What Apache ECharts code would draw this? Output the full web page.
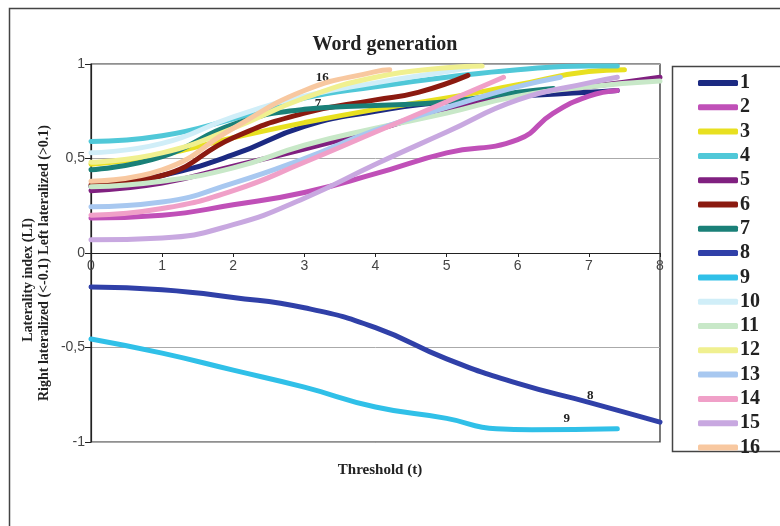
<!DOCTYPE html>
<html><head><meta charset="utf-8">
<script src="https://cdn.jsdelivr.net/npm/echarts@6/dist/echarts.min.js"></script>
<style>html,body{margin:0;padding:0;background:#fff;}#c{width:780px;height:526px;}</style>
</head><body><div id="c"></div>
<script>
const names = ['1','2','3','4','5','6','7','8','9','10','11','12','13','14','15','16'];
const colors = ['#1c2a82','#c050b8','#e8e020','#50c8d8','#802080','#8b1a10','#1a8078','#3040a8',
                '#30c0e8','#d0eef8','#c8e8c8','#f0f090','#a8c8f0','#f0a0c8','#c8a8e0','#f8c8a0'];
// [threshold, laterality index]
const s1  = [[0,0.35],[1,0.41],[2,0.52],[3,0.67],[4,0.75],[5,0.8],[6,0.83],[7,0.85],[7.4,0.86]];
const s2  = [[0,0.185],[1,0.2],[2,0.255],[3,0.32],[4,0.42],[5,0.53],[6,0.6],[6.5,0.74],[7,0.83],[7.4,0.86]];
const s3  = [[0,0.47],[1,0.52],[2,0.61],[3,0.69],[4,0.76],[5,0.82],[6,0.89],[7,0.96],[7.5,0.97]];
const s4  = [[0,0.59],[1,0.62],[2,0.71],[3,0.82],[4,0.88],[5,0.93],[6,0.97],[7,0.99],[7.4,0.99]];
const s5  = [[0,0.33],[1,0.37],[2,0.46],[3,0.55],[4,0.65],[5,0.76],[6,0.84],[7,0.88],[8,0.93]];
const s6  = [[0,0.36],[1,0.41],[2,0.61],[3,0.74],[4,0.81],[4.6,0.85],[5.3,0.94]];
const s7  = [[0,0.44],[1,0.51],[2,0.68],[3,0.76],[4,0.78],[5,0.8],[6,0.85],[6.5,0.87]];
const s8  = [[0,-0.18],[1,-0.195],[2,-0.235],[3,-0.29],[4,-0.395],[5,-0.56],[6,-0.69],[7,-0.79],[8,-0.895]];
const s9  = [[0,-0.455],[1,-0.53],[2,-0.62],[3,-0.71],[4,-0.815],[5,-0.875],[5.7,-0.93],[6.2,-0.935],[7.4,-0.93]];
const s10 = [[0,0.53],[1,0.58],[2,0.72],[3,0.83],[4,0.9],[5,0.96],[5.3,0.98]];
const s11 = [[0,0.35],[1,0.38],[2,0.45],[3,0.57],[4,0.66],[5,0.74],[6,0.83],[7,0.88],[8,0.91]];
const s12 = [[0,0.48],[1,0.53],[2,0.66],[3,0.82],[4,0.93],[5,0.98],[5.5,0.99]];
const s13 = [[0,0.245],[1,0.27],[2,0.37],[3,0.5],[4,0.65],[5,0.77],[6,0.88],[6.6,0.93]];
const s14 = [[0,0.2],[1,0.235],[2,0.33],[3,0.48],[4,0.64],[5,0.8],[5.8,0.93]];
const s15 = [[0,0.07],[1,0.08],[2,0.15],[3,0.29],[4,0.47],[5,0.64],[6,0.81],[7,0.9],[7.4,0.93]];
const s16 = [[0,0.38],[1,0.44],[2,0.66],[3,0.86],[4,0.96],[4.2,0.97]];
const allSeries = [s1,s2,s3,s4,s5,s6,s7,s8,s9,s10,s11,s12,s13,s14,s15,s16];
// line annotations: [series index, threshold, value]
const annotations = [[15,3.25,0.93],[6,3.19,0.79],[9,5.22,1.01],[7,7.02,-0.757],[8,6.69,-0.878]];

const serif = '"Liberation Serif","DejaVu Serif",serif';
const chart = echarts.init(document.getElementById('c'), null, {renderer:'canvas'});
const series = allSeries.map((d,i)=>{
  const marks = annotations.filter(a=>a[0]===i).map(a=>({coord:[a[1],a[2]], value:names[i]}));
  return {
    name: names[i], type:'line', data:d, smooth:0.5, showSymbol:false, symbol:'none',
    lineStyle:{width:5, color:colors[i], cap:'round'}, itemStyle:{color:colors[i]},
    z: 2 + i,
    markPoint: marks.length ? {
      symbol:'circle', symbolSize:0, silent:true,
      label:{show:true, formatter:'{c}', color:'#222', fontFamily:serif, fontWeight:'bold', fontSize:13},
      data: marks
    } : undefined
  };
});
chart.setOption({
  animation:false,
  backgroundColor:'#fff',
  title:{text:'Word generation', left:380, top:30, textAlign:'center',
    textStyle:{fontFamily:serif, fontWeight:'bold', fontSize:20, color:'#222'}},
  grid:{left:91, right:120, top:64, bottom:84, show:true, borderColor:'#222', borderWidth:1.2, backgroundColor:'transparent'},
  xAxis:{type:'value', min:0, max:8, interval:1, position:'bottom', offset:-189,
    axisLine:{onZero:false, lineStyle:{color:'#222', width:1.2}},
    axisTick:{show:true, length:4, lineStyle:{color:'#222'}},
    axisLabel:{color:'#444', fontFamily:'"Liberation Sans",Arial,sans-serif', fontSize:14, margin:6},
    splitLine:{show:false}},
  yAxis:{type:'value', min:-1, max:1, interval:0.5,
    axisLine:{show:true, lineStyle:{color:'#222', width:1.2}},
    axisTick:{show:true, length:6, lineStyle:{color:'#222'}},
    axisLabel:{color:'#444', fontFamily:'"Liberation Sans",Arial,sans-serif', fontSize:14, margin:6,
      formatter:v=>String(v).replace('.',',')},
    splitLine:{show:true, lineStyle:{color:'#aaa', width:1}}},
  legend:{orient:'vertical', left:693, top:68, itemWidth:40, itemHeight:6, itemGap:4.3,
    icon:'roundRect', data:names,
    textStyle:{fontFamily:serif, fontWeight:'bold', fontSize:20, color:'#222', lineHeight:20, padding:[0,0,0,-3]}},
  graphic:[
    {type:'rect', left:7, top:6, shape:{width:800, height:600}, style:{fill:'none', stroke:'#444', lineWidth:1.5}, silent:true},
    {type:'rect', left:670, top:64, shape:{width:120, height:385}, style:{fill:'none', stroke:'#444', lineWidth:1.5}, silent:true},
    {type:'text', x:28, y:280, rotation:Math.PI/2, style:{text:'Laterality index (LI)', fontFamily:serif, fontWeight:'bold', fontSize:14, fill:'#222', textAlign:'center', textVerticalAlign:'middle'}},
    {type:'text', x:44, y:263, rotation:Math.PI/2, style:{text:'Right lateralized (<-0.1) Left lateralized (>0.1)', fontFamily:serif, fontWeight:'bold', fontSize:14, fill:'#222', textAlign:'center', textVerticalAlign:'middle'}},
    {type:'text', x:380, y:470, style:{text:'Threshold (t)', fontFamily:serif, fontWeight:'bold', fontSize:15, fill:'#222', textAlign:'center', textVerticalAlign:'middle'}}
  ],
  series: series
});
</script></body></html>
